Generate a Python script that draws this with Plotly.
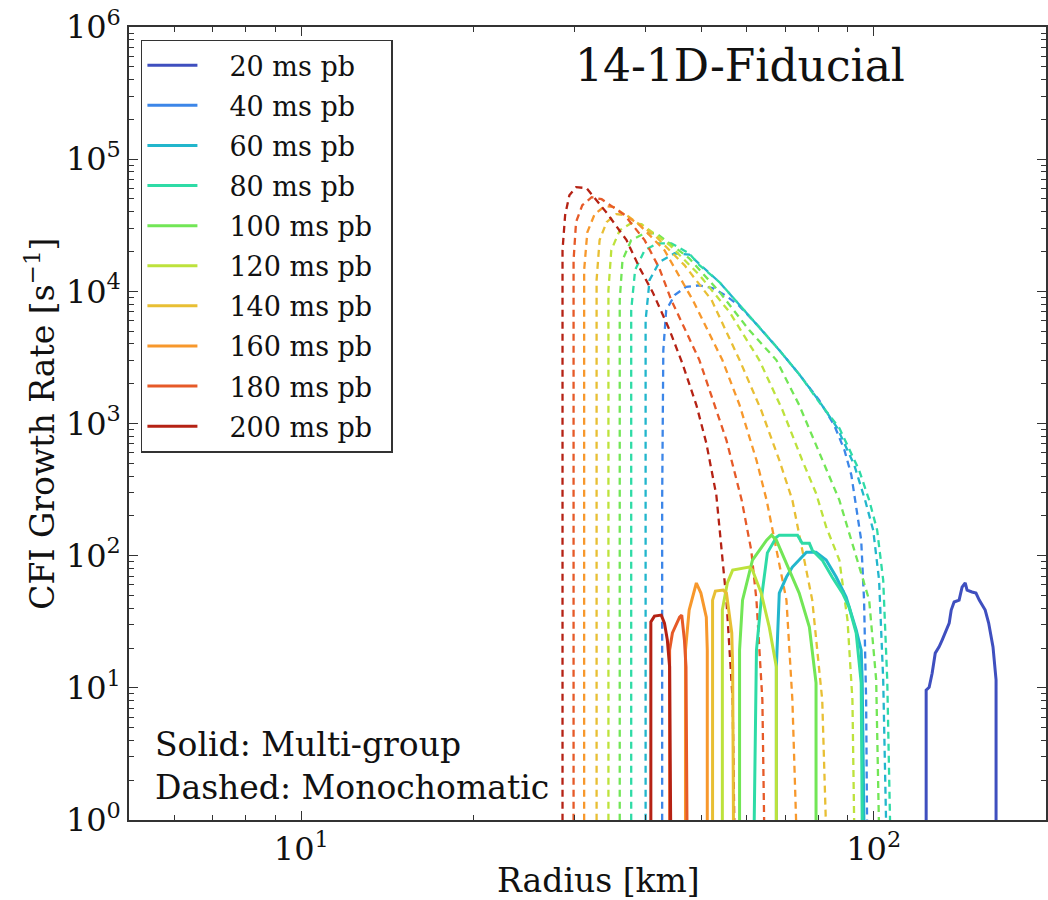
import plotly.graph_objects as go

# post-bounce times and line colours
times_ms = [20, 40, 60, 80, 100, 120, 140, 160, 180, 200]
colors = ["#3f4fbf", "#3c86e8", "#22b6cc", "#2edba6", "#72e656",
          "#bde23c", "#e8bf34", "#f7982c", "#e65a28", "#b52214"]

# Monochromatic CFI growth rate (dashed): radius [km], rate [1/s]
mono_r = {
    40: [42.7, 42.7, 42.9, 43.4, 44.9, 47.0, 49.6, 52.3, 55.3, 58.3, 63.1, 68.4, 74.1, 80.3, 85.3, 88.9, 91.4, 93.2, 95.1, 96.2, 97.0, 97.4],
    60: [39.95, 39.95, 40.6, 42.2, 44.9, 47.6, 49.6, 53.8, 58.3, 63.1, 68.4, 74.1, 80.3, 86.4, 92.5, 96.6, 99.8, 102.2, 103.9, 105.2],
    80: [37.7, 37.7, 38.3, 39.8, 41.9, 44.3, 47.6, 49.6, 53.8, 58.3, 63.1, 68.4, 74.1, 80.3, 87.1, 94.3, 98.2, 101.4, 103.9, 105.6, 106.9],
    100: [36.0, 36.0, 36.4, 37.7, 39.8, 41.7, 47.6, 53.8, 60.6, 67.6, 74.1, 81.3, 87.1, 92.5, 98.2, 101.0, 102.2],
    120: [34.4, 34.4, 34.8, 36.0, 37.7, 39.3, 44.0, 49.6, 56.0, 63.1, 69.3, 75.0, 79.3, 82.6, 87.1, 90.0, 91.8, 92.5],
    140: [32.8, 32.8, 33.2, 34.15, 35.5, 37.0, 41.4, 46.7, 52.1, 58.3, 63.6, 68.4, 72.1, 78.1, 81.3, 82.6],
    160: [31.2, 31.2, 31.6, 32.55, 33.9, 35.2, 39.0, 43.1, 48.3, 54.4, 58.3, 62.4, 65.0, 70.4, 72.1, 73.3],
    180: [29.9, 29.9, 30.2, 30.97, 32.16, 33.47, 36.73, 39.79, 42.2, 44.3, 49.6, 52.3, 55.3, 58.8, 61.1, 62.4, 63.9, 64.4],
    200: [28.6, 28.6, 28.9, 29.4, 30.2, 31.5, 34.2, 37.0, 39.0, 41.1, 44.0, 46.3, 49.0, 51.0, 53.1, 55.3, 56.7, 57.1],
}
mono_g = {
    40: [0.8, 263, 3590, 7210, 9360, 10800, 11100, 10600, 9200, 7730, 5360, 3590, 2360, 1500, 973, 629, 407, 241, 131, 46.1, 8.1, 0.8],
    60: [0.8, 6050, 12200, 16600, 19400, 19000, 16100, 11700, 7870, 5360, 3590, 2360, 1480, 923, 484, 263, 156, 65.3, 11.5, 0.8],
    80: [0.8, 7210, 14500, 20500, 23100, 23100, 19400, 15800, 11700, 7870, 5360, 3590, 2360, 1450, 923, 444, 263, 156, 65.3, 11.5, 0.8],
    100: [0.8, 8580, 17200, 24400, 27500, 27500, 17800, 9860, 5090, 3020, 1380, 528, 263, 110, 46.1, 11.5, 0.8],
    120: [0.8, 10200, 20500, 29000, 32800, 32200, 22400, 13300, 6960, 3020, 1260, 528, 297, 165, 92.6, 32.6, 8.1, 0.8],
    140: [0.8, 12200, 24400, 33400, 38400, 37700, 26600, 15800, 8580, 3020, 1260, 528, 263, 46.1, 8.1, 0.8],
    160: [0.8, 14500, 28000, 38400, 44100, 43300, 31700, 20500, 8580, 3020, 1380, 528, 263, 46.1, 8.1, 0.8],
    180: [0.8, 17200, 33400, 44900, 51600, 49800, 37700, 24400, 15000, 8580, 3020, 1500, 748, 263, 110, 46.1, 8.1, 0.8],
    200: [0.8, 20500, 37700, 53400, 61400, 60400, 39000, 24400, 15000, 9860, 5090, 2860, 1380, 711, 287, 46.1, 8.1, 0.8],
}

# Multi-group CFI growth rate (solid): radius [km], rate [1/s]
multi_r = {
    20: [123.5, 123.5, 125.0, 126.5, 128.1, 130.1, 131.7, 133.9, 135.5, 136.6, 138.2, 141.0, 142.7, 144.5, 145.6, 148.5, 150.9, 152.9, 156.6, 158.8, 161.6, 163.6, 163.6],
    60: [67.6, 67.6, 68.4, 70.4, 72.1, 74.1, 76.3, 79.3, 82.6, 86.0, 89.5, 93.2, 95.1, 95.5, 96.2],
    80: [61.8, 62.4, 63.6, 65.2, 67.6, 68.4, 73.6, 75.0, 77.2, 78.1, 81.3, 84.6, 88.2, 90.6, 93.2, 94.3, 95.1, 95.5],
    100: [58.3, 58.3, 59.0, 61.4, 65.0, 66.3, 67.6, 70.4, 74.1, 77.2, 79.3, 79.3],
    120: [54.4, 54.4, 55.5, 56.7, 60.6, 61.4, 63.6, 65.7, 67.6, 67.6],
    140: [52.3, 52.3, 52.9, 54.6, 55.3, 55.8, 56.5, 56.7, 56.9],
    160: [46.9, 46.9, 47.6, 49.0, 49.9, 51.0, 51.2, 51.2],
    180: [44.0, 44.0, 44.5, 45.8, 46.2, 46.7, 47.0, 47.2],
    200: [40.8, 40.8, 41.4, 42.55, 43.1, 43.6, 44.0, 44.2],
}
multi_g = {
    20: [0.8, 9.62, 10.1, 12.9, 18.3, 20.4, 23.0, 27.4, 30.9, 38.8, 44.6, 46.1, 57.8, 62.1, 54.9, 53.1, 52.1, 46.1, 38.8, 30.9, 20.4, 11.5, 0.8],
    60: [0.8, 14.4, 52.1, 68.9, 82.0, 92.6, 106, 106, 92.6, 68.9, 48.6, 27.4, 19.3, 10.9, 0.8],
    80: [0.8, 19.3, 46.1, 105, 138, 143, 143, 124, 124, 110, 92.6, 68.9, 52.1, 40.8, 26.0, 14.4, 10.9, 0.8],
    100: [0.8, 19.3, 46.1, 92.6, 131, 143, 131, 87.9, 52.1, 28.8, 10.9, 0.8],
    120: [0.8, 38.8, 62.1, 77.8, 82.0, 77.8, 52.1, 28.8, 14.4, 0.8],
    140: [0.8, 46.1, 54.0, 54.9, 52.1, 38.8, 26.0, 14.4, 0.8],
    160: [0.8, 19.3, 38.8, 62.1, 52.1, 34.3, 19.3, 0.8],
    180: [0.8, 19.3, 26.0, 34.3, 35.5, 23.0, 14.4, 0.8],
    200: [0.8, 31.5, 34.9, 35.5, 30.9, 23.0, 14.4, 0.8],
}

serif = "DejaVu Serif"

fig = go.Figure()

for t, c in zip(times_ms, colors):
    if t in mono_r:
        fig.add_trace(go.Scatter(
            x=mono_r[t], y=mono_g[t], mode="lines",
            line=dict(color=c, width=2.3, dash="7px,5px"),
            showlegend=False, hoverinfo="skip"))

for t, c in zip(times_ms, colors):
    fig.add_trace(go.Scatter(
        x=multi_r.get(t, [None]), y=multi_g.get(t, [None]), mode="lines",
        line=dict(color=c, width=3),
        name=f"\u2003{t} ms pb\u2002", legendgroup=str(t)))

minor_x = [m * 10 ** e for e in (0, 1, 2) for m in range(2, 10)]
minor_y = [m * 10 ** e for e in range(0, 6) for m in range(2, 10)]

axis_common = dict(
    type="log", showgrid=False, zeroline=False,
    showline=True, linecolor="#333", linewidth=1.5, mirror="allticks",
    ticks="inside", ticklen=9, tickwidth=1.2, tickcolor="#333",
    tickfont=dict(family=serif, size=32, color="#111"),
)

fig.update_xaxes(
    **axis_common,
    range=[0.69897, 2.30103],
    tickmode="array", tickvals=[10, 100],
    ticktext=["10<sup>1</sup>", "10<sup>2</sup>"],
    minor=dict(tickvals=minor_x, ticklen=5, tickcolor="#333", ticks="inside"),
)
fig.update_yaxes(
    **axis_common,
    range=[0, 6],
    tickmode="array", tickvals=[10 ** k for k in range(7)],
    ticktext=[f"10<sup>{k}</sup>" for k in range(7)],
    minor=dict(tickvals=minor_y, ticklen=5, tickcolor="#333", ticks="inside"),
)

fig.update_layout(
    width=1048, height=900,
    margin=dict(l=129, r=0, t=27, b=80),
    paper_bgcolor="white", plot_bgcolor="white",
    font=dict(family=serif, color="#111"),
    legend=dict(
        x=0.013, y=0.984, xanchor="left", yanchor="top",
        bgcolor="white", bordercolor="#333", borderwidth=1.5,
        font=dict(family=serif, size=27, color="#111"),
        tracegroupgap=2, itemwidth=50,
    ),
    annotations=[
        dict(text="14-1D-Fiducial", x=0.666, y=0.951, xref="paper", yref="paper",
             xanchor="center", yanchor="middle",
             showarrow=False, font=dict(family=serif, size=44, color="#111")),
        dict(text="Solid: Multi-group", x=0.026, y=0.0946, xref="paper", yref="paper",
             xanchor="left", yanchor="middle",
             showarrow=False, font=dict(family=serif, size=33, color="#111")),
        dict(text="Dashed: Monochomatic", x=0.026, y=0.0416, xref="paper", yref="paper",
             xanchor="left", yanchor="middle",
             showarrow=False, font=dict(family=serif, size=33, color="#111")),
        dict(text="Radius [km]", x=0.5125, y=-0.0757, xref="paper", yref="paper",
             xanchor="center", yanchor="middle",
             showarrow=False, font=dict(family=serif, size=33, color="#111")),
        dict(text="CFI Growth Rate [s<sup>−1</sup>]", x=-0.0968, y=0.5, xref="paper", yref="paper",
             xanchor="center", yanchor="middle", textangle=-90,
             showarrow=False, font=dict(family=serif, size=33, color="#111")),
    ],
)

fig.write_html("out.html")
